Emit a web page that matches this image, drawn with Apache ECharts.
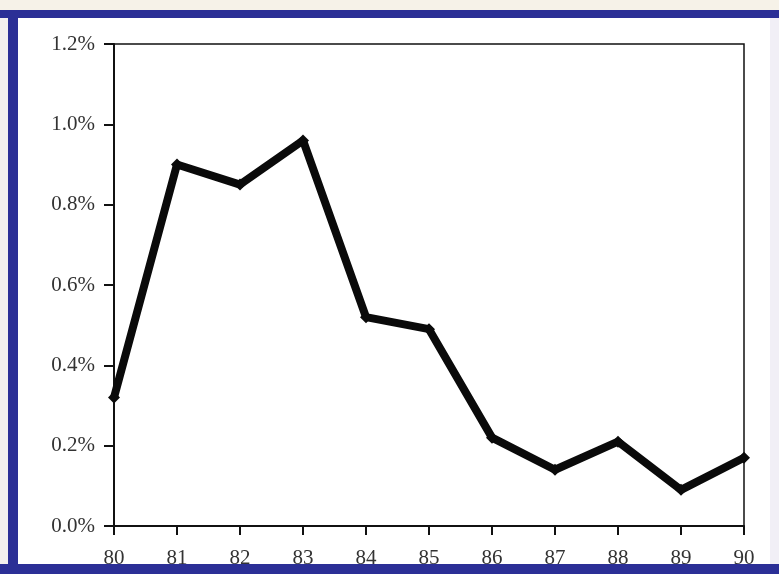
<!DOCTYPE html>
<html><head><meta charset="utf-8">
<script src="https://cdn.jsdelivr.net/npm/echarts@6/dist/echarts.min.js"></script>
<style>html,body{margin:0;padding:0;background:#fff}#c{width:779px;height:574px}</style>
</head><body><div id="c"></div>
<script>
const categories = ['80','81','82','83','84','85','86','87','88','89','90'];
const values = [0.32, 0.90, 0.85, 0.96, 0.52, 0.49, 0.22, 0.14, 0.21, 0.09, 0.17];
const yMin = 0, yMax = 1.2, yStep = 0.2;

const chart = echarts.init(document.getElementById('c'));
const font = '"Liberation Serif", "DejaVu Serif", serif';
chart.setOption({
  backgroundColor: '#ffffff',
  animation: false,
  grid: { left: 114, right: 35, top: 44, bottom: 48, show: true, borderColor: '#111', borderWidth: 1.5, backgroundColor: 'transparent' },
  xAxis: {
    type: 'category', data: categories, boundaryGap: false,
    axisLine: { lineStyle: { color: '#111', width: 2 } },
    axisTick: { show: true, length: 9, alignWithLabel: true, lineStyle: { color: '#111', width: 2 } },
    axisLabel: { color: '#333', fontFamily: font, fontSize: 21, margin: 22 },
    splitLine: { show: false }
  },
  yAxis: {
    type: 'value', min: yMin, max: yMax, interval: yStep,
    axisLine: { show: true, lineStyle: { color: '#111', width: 2 } },
    axisTick: { show: true, length: 10, lineStyle: { color: '#111', width: 2 } },
    axisLabel: { color: '#333', fontFamily: font, fontSize: 21, margin: 19,
      formatter: v => v.toFixed(1) + '%' },
    splitLine: { show: false }
  },
  series: [{
    type: 'line', data: values,
    lineStyle: { color: '#0a0a0a', width: 8 },
    symbol: 'diamond', symbolSize: 12,
    itemStyle: { color: '#0a0a0a' },
    z: 3
  }],
  graphic: [
    { type: 'rect', shape: { x: 0, y: 0, width: 779, height: 10 }, style: { fill: '#f6f2e8' }, z: 100 },
    { type: 'rect', shape: { x: 0, y: 10, width: 779, height: 8 }, style: { fill: '#2b2f96' }, z: 101 },
    { type: 'rect', shape: { x: 0, y: 18, width: 8, height: 556 }, style: { fill: '#f3f0ee' }, z: 100 },
    { type: 'rect', shape: { x: 8, y: 14, width: 10, height: 560 }, style: { fill: '#2b2f96' }, z: 101 },
    { type: 'rect', shape: { x: 770, y: 18, width: 9, height: 546 }, style: { fill: '#f1eff6' }, z: 100 },
    { type: 'rect', shape: { x: 0, y: 564, width: 779, height: 10 }, style: { fill: '#2b2f96' }, z: 101 }
  ]
});
</script></body></html>
